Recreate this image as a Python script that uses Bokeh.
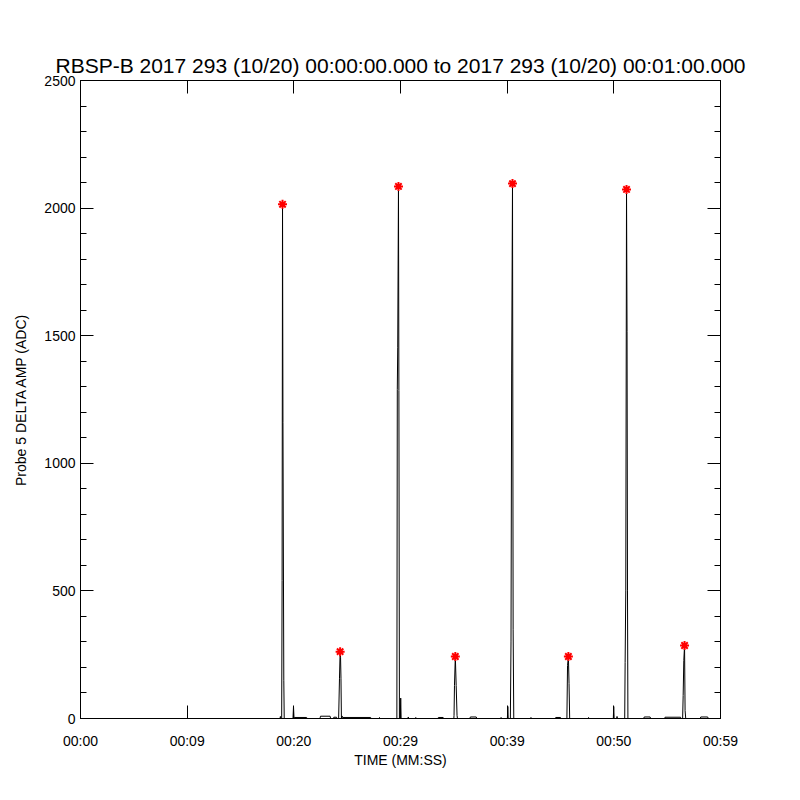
from bokeh.plotting import figure
from bokeh.models import LinearAxis, FixedTicker, Range1d
from bokeh.embed import file_html
from bokeh.resources import INLINE

# ---- data (seconds since 00:00:00, ADC amplitude) ----
time_s = [0, 18.70, 18.74, 18.78,
          18.86, 18.90, 18.94, 18.98, 19.06, 19.10,
          19.92, 19.97, 20.02, 20.05, 21.20, 21.25,
          22.45, 22.50, 23.40, 23.45, 23.70, 23.75, 24.00, 24.05,
          24.20, 24.28, 24.34, 24.38, 24.42, 24.46,
          24.52, 24.56, 27.20, 27.25, 28.00, 28.03, 28.06,
          29.66, 29.70, 29.74, 29.81, 29.85, 29.90,
          29.98, 30.02, 30.06, 30.70, 30.73, 30.76, 31.40, 31.43, 31.46,
          33.50, 33.55, 34.00, 34.05,
          35.00, 35.02, 35.06, 35.14, 35.22, 35.30, 35.34,
          36.50, 36.55, 37.10, 37.15, 39.40, 39.43, 39.46,
          40.02, 40.06, 40.10,
          40.30, 40.36, 40.42, 40.50, 40.56, 40.62,
          42.20, 42.23, 42.26, 44.50, 44.55, 45.00, 45.05,
          45.60, 45.66, 45.74, 45.80, 45.86,
          47.60, 47.63, 47.66, 49.95, 49.99, 50.03, 50.26, 50.30, 50.34,
          51.02, 51.06, 51.12, 51.19, 51.24, 51.28, 51.32,
          52.80, 52.85, 53.40, 53.45, 54.75, 54.80, 56.25, 56.30,
          56.45, 56.50, 56.56, 56.63, 56.68, 56.74,
          58.10, 58.15, 58.80, 58.85, 60.0]
amp = [0, 0, 8, 0,
       0, 540, 2015, 1160, 150, 0,
       0, 47, 0, 4, 4, 0,
       0, 9, 9, 0, 0, 5, 5, 0,
       0, 158, 262, 240, 158, 0,
       10, 4, 4, 0, 0, 4, 0,
       0, 1290, 1455, 2085, 1285, 0,
       0, 80, 0, 0, 6, 0, 0, 4, 0,
       0, 4, 4, 0,
       0, 12, 129, 243, 129, 12, 0,
       0, 6, 6, 0, 0, 4, 0,
       0, 47, 0,
       0, 300, 1350, 2096, 350, 0,
       0, 4, 0, 0, 4, 4, 0,
       0, 208, 243, 137, 0,
       0, 4, 0, 0, 47, 0, 0, 8, 0,
       0, 220, 500, 2073, 1517, 500, 0,
       0, 6, 6, 0, 0, 5, 5, 0,
       0, 90, 227, 286, 31, 0,
       0, 6, 6, 0, 0]

peak_t = [18.94, 24.34, 29.81, 35.14, 40.50, 45.74, 51.19, 56.63]
peak_v = [2015, 262, 2085, 243, 2096, 243, 2073, 286]

x_ticks = [0, 10, 20, 30, 40, 50, 60]
x_tick_labels = ["00:00", "00:09", "00:20", "00:29", "00:39", "00:50", "00:59"]
y_ticks = [0, 500, 1000, 1500, 2000, 2500]
y_minor = list(range(0, 2501, 100))

FONT = "Liberation Sans"

p = figure(width=784, height=784, output_backend="svg", toolbar_location=None,
           x_range=Range1d(0, 60), y_range=Range1d(0, 2500),
           min_border_left=80, min_border_right=64, min_border_top=80,
           min_border_bottom=66,
           title="RBSP-B 2017 293 (10/20) 00:00:00.000 to 2017 293 (10/20) 00:01:00.000")
p.title.align = "center"
p.title.text_font = FONT
p.title.text_font_size = "21px"
p.title.text_font_style = "normal"
p.title.text_color = "black"
p.title.standoff = 7
p.xgrid.visible = False
p.ygrid.visible = False
p.outline_line_color = "black"
p.background_fill_color = "white"
p.border_fill_color = "white"

def style_axis(ax, ticks, minor, labels=True):
    ax.ticker = FixedTicker(ticks=ticks, minor_ticks=minor)
    ax.major_tick_in = 13
    ax.major_tick_out = 0
    ax.minor_tick_in = 6
    ax.minor_tick_out = 0
    ax.axis_line_color = "black"
    ax.major_tick_line_color = "black"
    ax.minor_tick_line_color = "black" if minor else None
    ax.major_label_text_font = FONT
    ax.major_label_text_font_size = "14px"
    ax.major_label_text_color = "black"
    ax.axis_label_text_font = FONT
    ax.axis_label_text_font_size = "14px"
    ax.axis_label_text_font_style = "normal"
    ax.axis_label_text_color = "black"
    if not labels:
        ax.major_label_overrides = {t: "" for t in ticks}
        ax.major_label_standoff = 0

xa = p.xaxis[0]
style_axis(xa, x_ticks, [])
xa.major_label_overrides = {t: l for t, l in zip(x_ticks, x_tick_labels)}
xa.major_label_standoff = 14
xa.axis_label = "TIME (MM:SS)"
xa.axis_label_standoff = 0

ya = p.yaxis[0]
style_axis(ya, y_ticks, y_minor)
ya.major_label_standoff = 5
ya.axis_label = "Probe 5 DELTA AMP (ADC)"
ya.axis_label_standoff = 12

ra = LinearAxis()
style_axis(ra, y_ticks, y_minor, labels=False)
p.add_layout(ra, "right")
ta = LinearAxis()
style_axis(ta, x_ticks, [], labels=False)
p.add_layout(ta, "above")

p.line(time_s, amp, line_color="black", line_width=1)
p.scatter(peak_t, peak_v, marker="asterisk", size=9, line_color="red", line_width=2)

open("out.html", "w").write(file_html(p, INLINE))
